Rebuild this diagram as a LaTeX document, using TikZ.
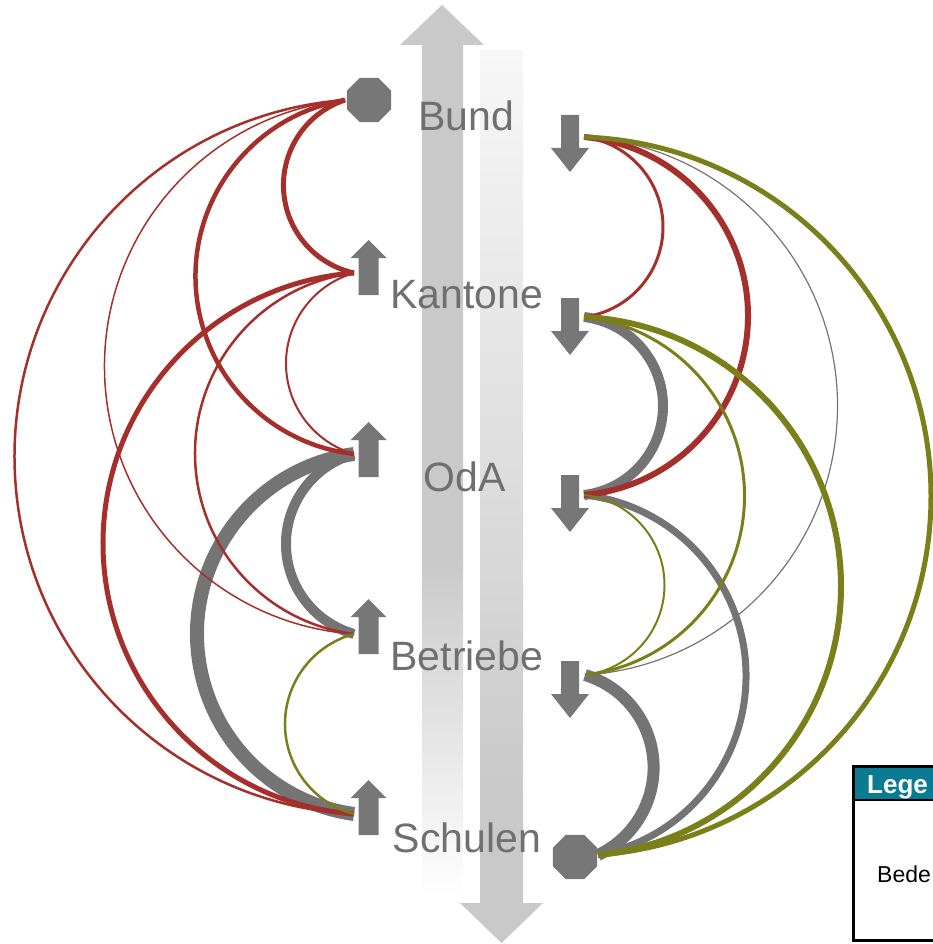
\documentclass[tikz,border=0pt]{standalone}
\usepackage{fontspec}
\setmainfont{Liberation Sans}
\usetikzlibrary{calc,shapes.geometric}

\definecolor{bargray}{HTML}{C9C9C9}
\definecolor{barlight}{HTML}{F7F7F7}
\definecolor{labgray}{HTML}{6F6F6F}
\definecolor{arrgray}{HTML}{777777}
\definecolor{linkred}{HTML}{A5302B}
\definecolor{linkolive}{HTML}{7A7F1A}
\definecolor{linkgray}{HTML}{747474}
\definecolor{legteal}{HTML}{0B7A93}

\pgfdeclareverticalshading{lfade}{100bp}{color(0bp)=(white); color(25bp)=(white); color(44bp)=(bargray); color(100bp)=(bargray)}
\pgfdeclareverticalshading{rfade}{100bp}{color(0bp)=(bargray); color(33bp)=(bargray); color(75bp)=(barlight); color(100bp)=(barlight)}

\newcommand\upArr[2]{\fill[arrgray,shift={(#1,#2)}] (-10,-55) -- (-10,-18) -- (-18,-18) -- (0,0) -- (18,-18) -- (10,-18) -- (10,-55) -- cycle;}
\newcommand\downArr[2]{\fill[arrgray,shift={(#1,#2)}] (-9,0) -- (9,0) -- (9,-33) -- (19,-33) -- (0,-57) -- (-19,-33) -- (-9,-33) -- cycle;}

\tikzset{
  arcb/.style={to path={
    let \p1=(\tikztostart), \p2=(\tikztotarget),
        \n1={veclen(\x2-\x1,\y2-\y1)/20},
        \n2={atan2(\y2-\y1,\x2-\x1)},
        \n3={(#1)/10},
        \n4={(\n1*\n1+\n3*\n3)/(2*\n3)},
        \n5={atan2(\n1,abs(\n4)-abs(\n3))},
        \n6={atan2(-\n1*sin(\n2)+(\n4-\n3)*cos(\n2),-\n1*cos(\n2)-(\n4-\n3)*sin(\n2))},
        \n7={-2*\n5*\n3/abs(\n3)}
    in arc[start angle=\n6, delta angle=\n7, radius={10pt*abs(\n4)}] \tikztonodes}},
  lab/.style={text=labgray, font=\fontsize{41}{49}\selectfont, anchor=base, inner sep=0pt},
  octa/.style={regular polygon, regular polygon sides=8, minimum size=48pt, inner sep=0pt, fill=arrgray},
  red/.style={draw=linkred},
  olv/.style={draw=linkolive},
  gry/.style={draw=linkgray}
}

\begin{document}
\begin{tikzpicture}[x=1pt,y=1pt]
\useasboundingbox (0,0) rectangle (933,-944);
\clip (0,0) rectangle (933,-944);

% big vertical arrows
\shade[shading=lfade] (422,-897) -- (422,-45) -- (400,-45) -- (442,-5) -- (484,-45) -- (463,-45) -- (463,-897) -- cycle;
\shade[shading=rfade] (480,-50) -- (523,-50) -- (523,-903) -- (543,-903) -- (501.5,-943) -- (460,-903) -- (480,-903) -- cycle;

% labels
\node[lab] (tB) at (466,-131) {Bund};
\node[lab] (tK) at (466.5,-308) {Kantone};
\node[lab] (tO) at (465,-491) {OdA};
\node[lab] (tBe) at (467,-670) {Betriebe};
\node[lab] (tS) at (467,-852) {Schulen};

% anchor points
\coordinate (LB) at (345,-100);
\coordinate (LK) at (354,-273);
\coordinate (LO) at (354,-454);
\coordinate (LBe) at (354,-634);
\coordinate (LS) at (354,-814);
\coordinate (RB) at (584,-137);
\coordinate (RK) at (584,-317);
\coordinate (RO) at (584,-495);
\coordinate (RBe) at (585,-675);
\coordinate (RS) at (598,-855);

% left side connectors
\draw[gry, line width=14pt] (LO) to[arcb=-157] (LS);
\draw[gry, line width=10pt] (LO) to[arcb=-68] (LBe);
\draw[red, line width=5pt] (LB) to[arcb=-66] (LK);
\draw[red, line width=4.5pt] (LB) to[arcb=-154] (LO);
\draw[red, line width=1.5pt] (LB) to[arcb=-245] (LBe);
\draw[red, line width=2.5pt] (LB) to[arcb=-335] (LS);
\draw[red, line width=2pt] (LK) to[arcb=-68] (LO);
\draw[red, line width=2.5pt] (LK) to[arcb=-159] (LBe);
\draw[red, line width=5pt] (LK) to[arcb=-251] (LS);
\draw[olv, line width=2.5pt] (LBe) to[arcb=-69] (LS);

% right side connectors
\draw[gry, line width=12pt] (RBe) to[arcb=62] (RS);
\draw[gry, line width=10pt] (RK) to[arcb=79] (RO);
\draw[gry, line width=7pt] (RO) to[arcb=155] (RS);
\draw[gry, line width=1.2pt] (RB) to[arcb=253] (RBe);
\draw[red, line width=3pt] (RB) to[arcb=79] (RK);
\draw[red, line width=6pt] (RB) to[arcb=164] (RO);
\draw[olv, line width=5pt] (RB) to[arcb=340] (RS);
\draw[olv, line width=3pt] (RK) to[arcb=160] (RBe);
\draw[olv, line width=6pt] (RK) to[arcb=250] (RS);
\draw[olv, line width=2pt] (RO) to[arcb=80] (RBe);

% small arrows and octagons
\upArr{368.5}{-240}
\upArr{368.5}{-422}
\upArr{368.5}{-599}
\upArr{368.5}{-780}
\downArr{570}{-115}
\downArr{570}{-298}
\downArr{570}{-475}
\downArr{570}{-661}
\node[octa] (octB) at (369,-100) {};
\node[octa] (octS) at (575,-857) {};

% legend (cut off at the right edge)
\fill[legteal] (853.5,-766) rectangle (990,-800);
\draw[line width=2pt] (853.5,-800) -- (990,-800);
\draw[line width=3pt] (853.5,-766) rectangle (990,-940);
\node[anchor=base west, inner sep=0pt, text=white, font=\bfseries\fontsize{26}{30}\selectfont] (legT) at (867,-793) {Lege};
\node[anchor=base west, inner sep=0pt, font=\fontsize{23}{28}\selectfont] (legB) at (877,-882) {Bede};
\end{tikzpicture}
\end{document}
